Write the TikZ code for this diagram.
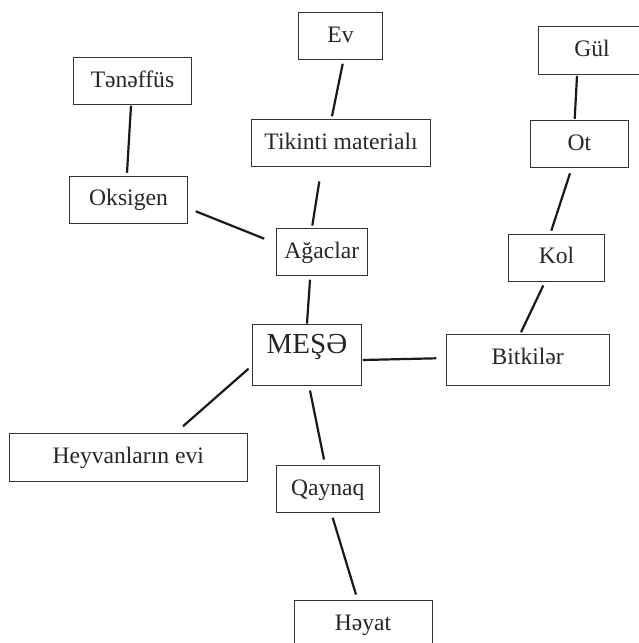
\documentclass[tikz,border=0pt]{standalone}
\usepackage{fontspec}
\setmainfont{Liberation Serif}
\begin{document}
\begin{tikzpicture}[x=1pt,y=-1pt,
  box/.style={draw=black!80,line width=0.9pt,inner sep=0pt,text=black!85,
    font=\fontsize{23.6}{28}\selectfont,text height=16pt,text depth=4pt,
    minimum height=46.6pt},
  link/.style={draw=black!90,line width=2.2pt}]
\useasboundingbox (0,0) rectangle (639,643);
\clip (0,0) rectangle (639,643);
\node[box,minimum width=84.4pt] (ev) at (340.5,36) {Ev};
\node[box,minimum width=117.6pt] (ten) at (132.5,81.2) {Tənəffüs};
\node[box,minimum width=108pt,minimum height=48.3pt] (gul) at (592,50.2) {Gül};
\node[box,minimum width=179.4pt] (tik) at (341,143) {Tikinti materialı};
\node[box,minimum width=98.4pt] (ot) at (579.5,144.2) {Ot};
\node[box,minimum width=117.6pt] (oks) at (128.5,199.8) {Oksigen};
\node[box,minimum width=91pt] (aga) at (321.8,252) {Ağaclar};
\node[box,minimum width=95.6pt] (kol) at (556.5,257.7) {Kol};
\node[box,minimum width=108.6pt,minimum height=61.5pt,
  font=\fontsize{29}{34}\selectfont,text height=20pt,text depth=22.4pt] (mes) at (307,354.8) {MEŞƏ};
\node[box,minimum width=163.3pt,minimum height=51pt,text depth=8.4pt] (bit) at (527.7,360.2) {Bitkilər};
\node[box,minimum width=238.3pt,minimum height=48pt] (hey) at (128.2,457.7) {Heyvanların evi};
\node[box,minimum width=102.7pt] (qay) at (327.7,489) {Qaynaq};
\node[box,minimum width=138pt] (hay) at (363,624) {Həyat};
\draw[link] ([shift={(-1.5,0.7)}]ten.south) -- ([shift={(-1.5,-3.3)}]oks.north);
\draw[link] ([shift={(8,11.5)}]oks.east) -- ([shift={(-11.6,-13.3)}]aga.west);
\draw[link] ([shift={(2.2,4)}]ev.south) -- ([shift={(-9,-3)}]tik.north);
\draw[link] ([shift={(-21.7,14.7)}]tik.south) -- ([shift={(-9.5,-2.7)}]aga.north);
\draw[link] ([shift={(-11.8,4)}]aga.south) -- (mes.north);
\draw[link] ([shift={(-15,1)}]gul.south) -- ([shift={(-4.8,-1.7)}]ot.north);
\draw[link] ([shift={(-9.5,5.4)}]ot.south) -- ([shift={(-5.2,-3.3)}]kol.north);
\draw[link] ([shift={(-13.2,4)}]kol.south) -- ([shift={(-6.7,-2)}]bit.north);
\draw[link] ([shift={(1,5.2)}]mes.east) -- ([shift={(-9.3,-1.9)}]bit.west);
\draw[link] ([shift={(-3.7,13.9)}]mes.west) -- ([shift={(54.8,-7)}]hey.north);
\draw[link] ([shift={(3,4.5)}]mes.south) -- ([shift={(-3.7,-5.7)}]qay.north);
\draw[link] ([shift={(5,5)}]qay.south) -- ([shift={(-7,-5.7)}]hay.north);
\end{tikzpicture}
\end{document}
